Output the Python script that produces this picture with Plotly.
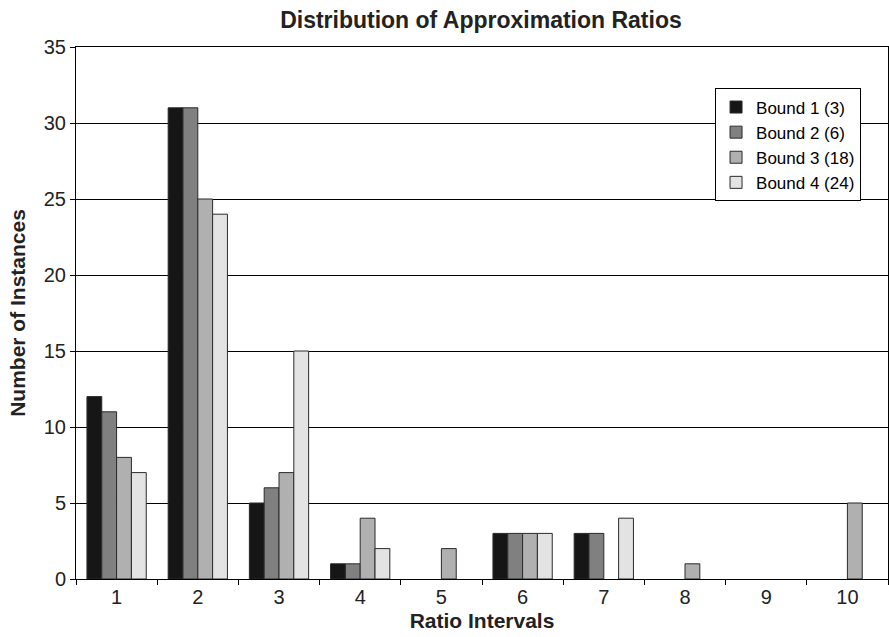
import plotly.graph_objects as go

categories = ["1", "2", "3", "4", "5", "6", "7", "8", "9", "10"]
series_names = ["Bound 1 (3)", "Bound 2 (6)", "Bound 3 (18)", "Bound 4 (24)"]
bound1 = [12, 31, 5, 1, 0, 3, 3, 0, 0, 0]
bound2 = [11, 31, 6, 1, 0, 3, 3, 0, 0, 0]
bound3 = [8, 25, 7, 4, 2, 3, 0, 1, 0, 5]
bound4 = [7, 24, 15, 2, 0, 3, 4, 0, 0, 0]
colors = ["#161616", "#808080", "#b0b0b0", "#e3e3e3"]

fig = go.Figure()
for name, vals, c in zip(series_names, [bound1, bound2, bound3, bound4], colors):
    fig.add_trace(go.Bar(
        x=categories, y=vals, name=name,
        marker=dict(color=c, line=dict(color="#2a2a2a",
                                       width=[1 if v else 0 for v in vals])),
    ))

font = "Liberation Sans, Arial, sans-serif"
fig.update_layout(
    width=889, height=637,
    margin=dict(l=76, r=1, t=47, b=58),
    paper_bgcolor="white", plot_bgcolor="white",
    barmode="group", bargap=0.27, bargroupgap=0,
    font=dict(family=font, color="black", size=20),
    title=dict(text="<b>Distribution of Approximation Ratios</b>", x=0.541, xanchor="center",
               y=0.969, yanchor="middle", font=dict(size=23, color="#222")),
    legend=dict(x=0.787, y=0.922, xanchor="left", yanchor="top",
                bordercolor="black", borderwidth=1, bgcolor="white",
                font=dict(size=17), tracegroupgap=0, itemwidth=30),
    xaxis=dict(title=dict(text="<b>Ratio Intervals</b>", standoff=6, font=dict(size=21, color="#222")),
               showline=True, linecolor="black", linewidth=1, mirror=True,
               ticks="outside", tickson="boundaries", ticklen=5, tickcolor="black",
               showgrid=False, tickfont=dict(size=20, color="#222")),
    yaxis=dict(title=dict(text="<b>Number of Instances</b>", standoff=12, font=dict(size=21, color="#222")),
               range=[0, 35], dtick=5, showline=True, linecolor="black", linewidth=1, mirror=True,
               ticks="outside", ticklen=5, tickcolor="black",
               showgrid=True, gridcolor="black", gridwidth=1, zeroline=False,
               tickfont=dict(size=20, color="#222")),
)

fig.write_html("out.html", config={"displayModeBar": False},
               post_script="document.body.style.margin='0px';")
